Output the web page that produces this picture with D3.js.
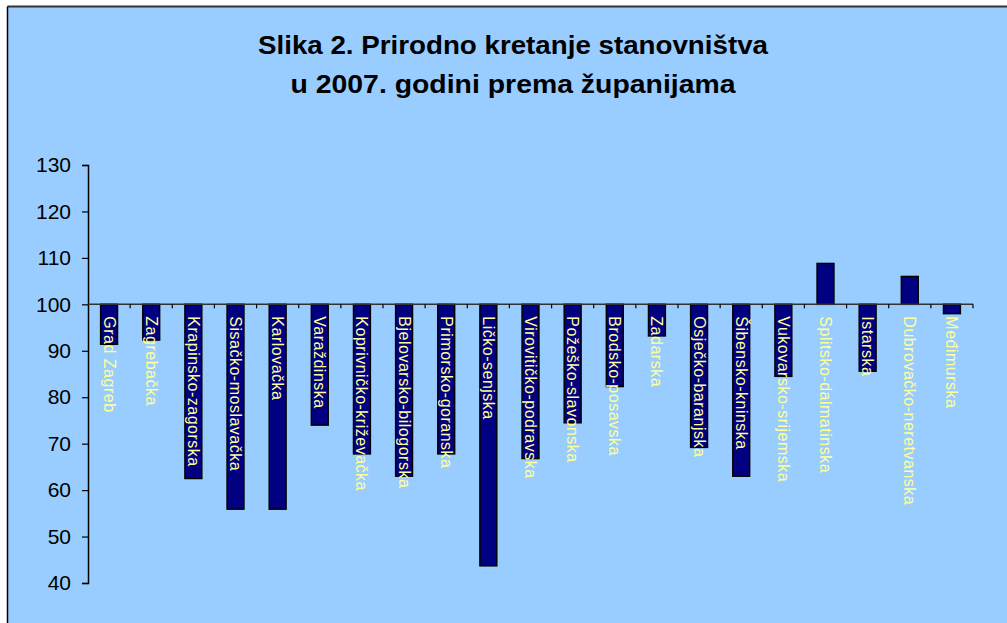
<!DOCTYPE html>
<html>
<head>
<meta charset="utf-8">
<script src="https://cdn.jsdelivr.net/npm/d3@7"></script>
<style>
  html, body { margin: 0; padding: 0; background: #fff; }
  svg { display: block; font-family: Arial, "Liberation Sans", sans-serif; }
</style>
</head>
<body>
<svg id="chart"></svg>
<script>
const width = 1007;
const height = 623;

// counties (županije)
const counties = [
  "Grad Zagreb", "Zagrebačka", "Krapinsko-zagorska", "Sisačko-moslavačka",
  "Karlovačka", "Varaždinska", "Koprivničko-križevačka", "Bjelovarsko-bilogorska",
  "Primorsko-goranska", "Ličko-senjska", "Virovitičko-podravska", "Požeško-slavonska",
  "Brodsko-posavska", "Zadarska", "Osječko-baranjska", "Šibensko-kninska",
  "Vukovarsko-srijemska", "Splitsko-dalmatinska", "Istarska",
  "Dubrovačko-neretvanska", "Međimurska"
];

// vitalni indeks (živorođeni na 100 umrlih)
const vitalIndex = [
  91.4, 92.3, 62.5, 55.9, 55.9, 74.0, 67.8, 63.0,
  67.8, 43.7, 66.8, 74.5, 82.3, 93.2, 69.2, 63.0,
  84.5, 108.8, 85.6, 106.0, 98.0
];

const yTicks = [40, 50, 60, 70, 80, 90, 100, 110, 120, 130];
const baseline = 100;

const titleLines = [
  "Slika 2. Prirodno kretanje stanovništva",
  "u 2007. godini prema županijama"
];

const svg = d3.select("#chart").attr("width", width).attr("height", height);

// chart background + border (top and left visible)
svg.append("rect")
  .attr("x", 7.5).attr("y", 6.5)
  .attr("width", width).attr("height", height)
  .attr("fill", "#99ccff");
svg.append("line")
  .attr("x1", 7.5).attr("x2", width).attr("y1", 6.5).attr("y2", 6.5)
  .attr("stroke", "#333").attr("stroke-width", 2);
svg.append("line")
  .attr("x1", 7.5).attr("x2", 7.5).attr("y1", 6.5).attr("y2", height)
  .attr("stroke", "#000").attr("stroke-width", 1.5);

// title - condensed bold, stretched to the widths seen in the picture
svg.selectAll("text.title")
  .data(titleLines)
  .enter()
  .append("text")
  .attr("class", "title")
  .attr("x", 513)
  .attr("y", (d, i) => 54 + i * 39)
  .attr("text-anchor", "middle")
  .attr("font-size", 25)
  .attr("font-weight", "bold")
  .attr("fill", "#000")
  .attr("textLength", (d, i) => (i === 0 ? 510 : 445))
  .attr("lengthAdjust", "spacingAndGlyphs")
  .text((d) => d);

const x = d3.scaleBand()
  .domain(counties)
  .range([88, 973])
  .paddingInner(0.6)
  .paddingOuter(0.3);

const y = d3.scaleLinear().domain([40, 130]).range([583, 165]);

// y axis
const yAxis = d3.axisLeft(y).tickValues(yTicks).tickSize(6).tickPadding(11);
const yG = svg.append("g").attr("transform", "translate(88,0)").call(yAxis);
yG.select(".domain").attr("stroke", "#000").attr("stroke-width", 1.5);
yG.selectAll(".tick line").attr("stroke", "#000").attr("stroke-width", 1.2);
yG.selectAll(".tick text")
  .attr("font-size", 21)
  .attr("font-family", "Arial, 'Liberation Sans', sans-serif")
  .attr("fill", "#000");

// bars, hanging from / rising above the 100 line
svg.append("g")
  .selectAll("rect")
  .data(counties.map((c, i) => ({ name: c, value: vitalIndex[i] })))
  .enter()
  .append("rect")
  .attr("x", (d) => x(d.name))
  .attr("width", x.bandwidth())
  .attr("y", (d) => y(Math.max(d.value, baseline)))
  .attr("height", (d) => Math.abs(y(d.value) - y(baseline)))
  .attr("fill", "#000080")
  .attr("stroke", "#000")
  .attr("stroke-width", 1.5);

// category axis sitting on 100
const y0 = y(baseline);
const [r0, r1] = x.range();
const step = x.step();
const catG = svg.append("g");
catG.append("line")
  .attr("x1", r0).attr("x2", r1).attr("y1", y0).attr("y2", y0)
  .attr("stroke", "#333").attr("stroke-width", 1.5);
catG.selectAll("line.tick")
  .data(d3.range(1, counties.length + 1))
  .enter()
  .append("line")
  .attr("class", "tick")
  .attr("x1", (i) => r0 + i * step)
  .attr("x2", (i) => r0 + i * step)
  .attr("y1", y0)
  .attr("y2", y0 + 4)
  .attr("stroke", "#000")
  .attr("stroke-width", 1.2);

// rotated labels
svg.append("g")
  .selectAll("text")
  .data(counties)
  .enter()
  .append("text")
  .attr("transform", (d) => `translate(${x(d) + x.bandwidth() / 2},${y0 + 12}) rotate(90)`)
  .attr("dominant-baseline", "central")
  .attr("font-size", 16)
  .attr("letter-spacing", 0.5)
  .attr("fill", "#ffff99")
  .text((d) => d);
</script>
</body>
</html>
